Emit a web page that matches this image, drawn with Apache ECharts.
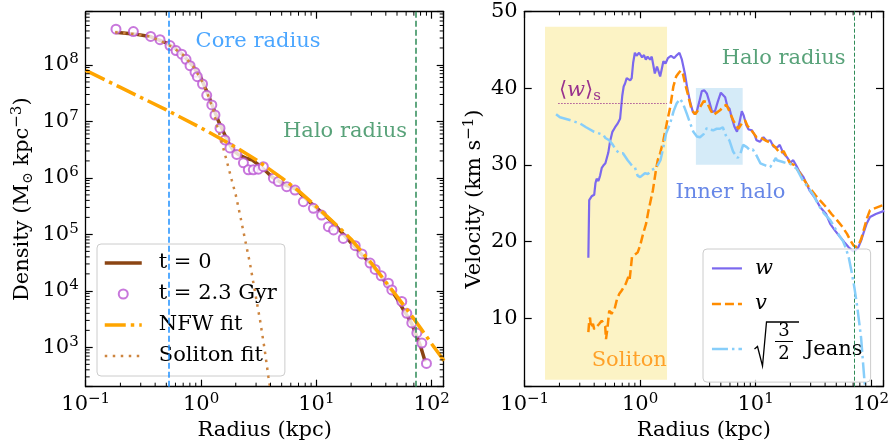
<!DOCTYPE html>
<html><head><meta charset="utf-8">
<script src="https://cdn.jsdelivr.net/npm/echarts@6/dist/echarts.min.js"></script>
<style>html,body{margin:0;padding:0;background:#fff}#c{width:892px;height:441px}</style>
</head><body><div id="c"></div>
<script>
// ---------------- DATA ----------------
// Left panel: density profiles  [radius kpc, density Msun/kpc^3]
const densityT0 = [[0.18,3.8e8],[0.26,3.55e8],[0.36,3.2e8],[0.5,2.45e8],[0.6,1.95e8],[0.7,1.5e8],[0.85,9.5e7],[1.0,5.8e7],[1.15,3.0e7],[1.28,1.7e7],[1.42,1.0e7],[1.56,6.6e6],[1.75,4.0e6],[1.9,3.1e6],[2.1,2.6e6],[2.5,2.2e6],[2.75,2.1e6],[3.1,1.75e6],[3.6,1.35e6],[4.1,1.05e6],[4.7,8.8e5],[5.35,7.5e5],[6.0,6.9e5],[6.6,6.4e5],[7.5,5.0e5],[8.5,3.9e5],[9.75,3.1e5],[11.5,2.3e5],[13.6,1.7e5],[16.5,1.1e5],[19.5,7.5e4],[23,5.2e4],[26.4,3.8e4],[29.2,3.1e4],[35,2.0e4],[43.6,1.1e4],[50,7.3e3],[56.9,4.6e3],[62,3.5e3],[67.2,2.6e3],[74.3,1.56e3],[80,1.05e3],[87.7,5.6e2]];
const densityT23 = [[0.183,4.3e8],[0.259,3.9e8],[0.366,3.2e8],[0.441,2.8e8],[0.538,2.2e8],[0.607,1.8e8],[0.68,1.55e8],[0.741,1.26e8],[0.803,9.7e7],[0.887,7.4e7],[0.929,6.2e7],[1.03,4.6e7],[1.12,2.9e7],[1.24,1.96e7],[1.32,1.3e7],[1.46,7.6e6],[1.61,4.7e6],[1.78,3.4e6],[2.04,2.6e6],[2.33,1.85e6],[2.57,1.39e6],[2.84,1.39e6],[3.14,1.43e6],[3.47,1.58e6],[4.24,9.9e5],[4.68,8.6e5],[5.53,7.0e5],[6.53,6.1e5],[7.71,3.8e5],[9.42,2.9e5],[11.1,2.2e5],[12.7,1.37e5],[14.1,1.2e5],[17.1,8.5e4],[21.7,6.3e4],[24.8,4.5e4],[29.2,3.1e4],[32.3,2.4e4],[36.5,1.85e4],[42.1,1.37e4],[45.1,1.04e4],[55,6.5e3],[60.8,4.0e3],[67.2,2.7e3],[74.3,1.8e3],[82,1.19e3],[90,5.2e2]];
const nfwFit = [[0.1,8.0e7],[0.2,4.0e7],[0.5,1.6e7],[1,7.7e6],[2,3.5e6],[3,2.1e6],[5,1.0e6],[7,5.9e5],[10,3.1e5],[15,1.45e5],[20,8.2e4],[30,3.1e4],[45,1.05e4],[60,4.9e3],[80,2.2e3],[100,1.15e3],[115,7.8e2],[130,5.5e2]];
const solitonFit = [[0.18,3.8e8],[0.26,3.55e8],[0.36,3.2e8],[0.5,2.4e8],[0.6,1.9e8],[0.7,1.5e8],[0.85,9.5e7],[1.0,5.6e7],[1.15,2.9e7],[1.28,1.55e7],[1.37,8.7e6],[1.5,4.5e6],[1.67,2.0e6],[1.85,9.0e5],[2.0,5.0e5],[2.2,2.0e5],[2.41,8.0e4],[2.66,3.0e4],[2.9,1.1e4],[3.25,3.0e3],[3.55,9.5e2],[3.84,3.0e2],[4.05,1.5e2]];
const coreRadius = 0.53;
const haloRadius = 72;

// Right panel: velocities [radius kpc, km/s]
const velW = [[0.356,17.9],[0.362,25.4],[0.38,25.9],[0.40,26.1],[0.41,27.6],[0.42,28.2],[0.435,27.9],[0.45,28.6],[0.465,29.6],[0.48,29.9],[0.50,30.2],[0.53,31.6],[0.548,33.0],[0.575,34.3],[0.607,34.9],[0.64,35.4],[0.67,36.0],[0.685,37.5],[0.70,39.0],[0.72,40.2],[0.74,40.6],[0.765,41.3],[0.79,41.1],[0.82,41.0],[0.845,41.3],[0.87,43.3],[0.9,44.6],[0.93,44.2],[0.955,44.1],[0.98,44.6],[1.0,44.8],[1.04,44.0],[1.08,44.3],[1.12,43.7],[1.16,44.1],[1.22,43.7],[1.26,44.1],[1.30,43.0],[1.34,41.9],[1.40,42.8],[1.45,42.1],[1.49,41.5],[1.53,42.3],[1.59,43.5],[1.66,43.2],[1.74,43.9],[1.85,44.2],[1.97,43.9],[2.08,44.3],[2.19,44.6],[2.3,43.7],[2.44,41.9],[2.56,40.0],[2.7,38.3],[2.85,37.0],[2.96,36.6],[3.09,36.9],[3.25,38.2],[3.42,39.6],[3.6,39.7],[3.78,39.3],[3.98,38.2],[4.2,36.9],[4.45,37.0],[4.7,38.2],[5.0,39.4],[5.2,39.5],[5.45,38.8],[5.7,37.6],[5.95,37.3],[6.2,36.2],[6.55,35.0],[6.9,34.3],[7.2,35.3],[7.6,37.0],[7.9,36.4],[8.3,35.2],[8.7,34.6],[9.3,34.5],[9.8,33.9],[10.2,33.2],[10.9,33.0],[11.7,33.6],[12.5,33.1],[13.4,33.2],[14.3,32.4],[15.2,32.2],[16.2,32.6],[17.4,31.5],[18.7,31.0],[20,30.3],[21.2,30.6],[22.7,29.8],[24,29.1],[26,28.4],[29.5,26.6],[33,25.6],[36.2,24.5],[40.8,23.6],[44.3,22.3],[49,21.4],[54,20.6],[59,19.9],[63.7,19.3],[68,18.9],[71,18.7],[74,18.9],[77.8,19.3],[82,20.1],[86,21.1],[92,22.4],[98,23.2],[110,23.6],[130,24.0]];
const velV = [[0.356,8.2],[0.362,9.6],[0.368,10.1],[0.375,8.8],[0.39,9.3],[0.40,8.6],[0.42,8.9],[0.443,9.3],[0.465,9.7],[0.48,9.9],[0.498,9.0],[0.506,7.3],[0.52,8.6],[0.54,11.0],[0.565,10.6],[0.6,11.2],[0.62,11.4],[0.63,12.5],[0.66,13.2],[0.69,13.6],[0.75,14.5],[0.79,15.4],[0.81,15.0],[0.83,16.5],[0.85,18.0],[0.9,18.3],[0.953,18.6],[1.0,19.5],[1.06,21.0],[1.125,22.3],[1.18,24.0],[1.29,26.7],[1.37,29.3],[1.42,30.6],[1.49,31.5],[1.59,33.2],[1.70,35.4],[1.82,37.5],[1.94,40.2],[2.05,41.5],[2.14,41.9],[2.25,42.3],[2.35,41.8],[2.45,40.6],[2.62,38.9],[2.8,37.1],[3.0,36.6],[3.09,36.7],[3.3,37.5],[3.55,38.3],[3.78,38.2],[4.05,37.2],[4.3,36.5],[4.6,36.8],[4.92,37.1],[5.25,37.6],[5.6,37.8],[6.0,36.8],[6.4,35.8],[7.1,34.7],[7.6,35.4],[8.1,35.8],[8.5,35.1],[8.95,34.7],[9.5,34.2],[10.2,33.6],[10.9,33.6],[12.1,33.2],[13.4,32.9],[14.8,32.3],[16.3,31.5],[17.5,31.8],[18.6,31.0],[19.9,30.2],[21.5,30.0],[24.3,28.9],[28,27.4],[33.2,26.0],[36.5,25.3],[40.8,24.5],[45.5,23.6],[50.7,22.8],[56,22.0],[62,21.0],[66,20.2],[70.4,19.5],[74,19.3],[77.8,19.5],[82,20.3],[86,21.4],[92,23.0],[98,24.1],[110,24.4],[130,24.8]];
const velJeans = [[0.187,36.6],[0.202,36.2],[0.25,35.8],[0.30,35.4],[0.34,34.9],[0.40,34.3],[0.48,33.9],[0.50,33.5],[0.54,33.2],[0.55,33.0],[0.58,32.6],[0.62,31.9],[0.66,31.5],[0.71,31.5],[0.78,30.6],[0.85,29.9],[0.9,29.7],[0.95,28.6],[1.0,28.4],[1.03,28.4],[1.1,28.9],[1.17,28.8],[1.25,29.3],[1.39,29.7],[1.5,30.6],[1.59,32.3],[1.68,34.1],[1.82,35.4],[1.95,37.0],[2.07,38.0],[2.22,38.6],[2.35,38.0],[2.53,36.7],[2.7,35.5],[2.89,34.3],[3.1,33.7],[3.3,33.6],[3.55,34.0],[3.78,34.8],[4.0,34.6],[4.3,34.5],[4.6,34.7],[4.92,34.7],[5.2,34.9],[5.6,33.6],[5.93,33.2],[6.4,31.7],[7.0,30.9],[7.4,31.5],[7.8,32.6],[8.4,32.3],[8.95,31.9],[9.46,32.0],[10.2,31.2],[11,30.2],[12.3,29.9],[13.4,29.7],[15,30.9],[15.3,30.6],[17,30.4],[18.6,30.2],[19.6,30.2],[22.7,29.5],[25.6,28.0],[29.6,26.7],[31.3,26.2],[34.7,24.9],[39,23.7],[44.3,22.8],[49,21.7],[54,20.6],[57,20.1],[60,19.3],[64,18.0],[68,16.0],[71.8,14.0],[76,11.5],[82,7.5],[85,4.5],[87.7,1.9],[89,1.0]];
const solitonBox = [[0.15, 2], [1.71, 48]];
const innerHaloBox = [[3.04, 30], [7.73, 40]];
const wMeanSoliton = 38;
const wMeanRange = [0.196, 1.71];

// Tick labels / axis ranges
const leftX = {min: 0.1, max: 127};
const leftY = {min: 201, max: 8.77e8};
const rightX = {min: 0.1, max: 127};
const rightY = {min: 1.1, max: 50};
const minorMult = [2,3,4,5,6,7,8,9];

// Annotation anchors (data coordinates)
const leftNotes = [
  {text: 'Core radius', pos: [3.12, 2.58e8], color: '#1E90FF'},
  {text: 'Halo radius', pos: [17.7, 6.6e6], color: '#2E8B57'}
];
const rightNotes = [
  {text: 'Halo radius', pos: [17.5, 43.9], color: '#2E8B57'},
  {text: '{a|⟨}{i|w}{a|⟩}{s|s}', pos: [0.301, 39.7], color: '#800080'},
  {text: 'Inner halo', pos: [6.05, 26.45], color: '#4169E1'},
  {text: 'Soliton', pos: [0.805, 4.48], color: '#FF8C00'}
];

// ---------------- CHART ----------------
const F = "'DejaVu Serif', serif";
const FS = 21;
const chart = echarts.init(document.getElementById('c'), null, {renderer: 'canvas'});

function powLabel(v) {
  const e = Math.log10(v), r = Math.round(e);
  if (Math.abs(e - r) > 1e-6) return '';
  return '{b|10}{s|' + (r < 0 ? '−' + (-r) : r) + '}';
}
const labRich = {
  b: {fontFamily: F, fontSize: FS, color: '#000', lineHeight: 26},
  s: {fontFamily: F, fontSize: 15, color: '#000', verticalAlign: 'top', lineHeight: 15}
};
const tickStyle = {inside: true, length: 7, lineStyle: {color: '#000', width: 1.2}};
const lineStyleAxis = {show: true, onZero: false, lineStyle: {color: '#000', width: 1.3}};

function logAxis(grid, pos, rng, showLabel, name, nameGap, extra) {
  return Object.assign({
    type: 'log', logBase: 10, gridIndex: grid, position: pos, min: rng.min, max: rng.max,
    splitNumber: 10, axisLine: lineStyleAxis, axisTick: tickStyle, splitLine: {show: false},
    axisLabel: {show: showLabel, interval: 0, formatter: powLabel, rich: labRich, margin: 5},
    name: name || '', nameLocation: 'middle', nameGap: nameGap || 0
  }, extra || {});
}
const nameRich = {
  t: {fontFamily: F, fontSize: FS, color: '#000', lineHeight: 26},
  sub: {fontFamily: F, fontSize: 14, color: '#000', verticalAlign: 'bottom', lineHeight: 12},
  sup: {fontFamily: F, fontSize: 15, color: '#000', verticalAlign: 'top', lineHeight: 15}
};

function minorTicks(xi, yi, dir, rngX, rngY) {
  const vals = [];
  const rng = dir === 'x' ? rngX : rngY;
  for (let e = Math.floor(Math.log10(rng.min)); e <= Math.ceil(Math.log10(rng.max)); e++) {
    for (const m of minorMult) {
      const v = m * Math.pow(10, e);
      if (v > rng.min && v < rng.max) vals.push(dir === 'x' ? [v, rngY.min] : [rngX.min, v]);
    }
  }
  return {
    type: 'custom', xAxisIndex: xi, yAxisIndex: yi, silent: true, z: 10, clip: false,
    data: vals,
    renderItem: function (params, api) {
      const cs = params.coordSys;
      const p = api.coord([api.value(0), api.value(1)]);
      const L = 4, st = {stroke: '#000', lineWidth: 1};
      if (dir === 'x') {
        return {type: 'group', children: [
          {type: 'line', shape: {x1: p[0], y1: cs.y + cs.height, x2: p[0], y2: cs.y + cs.height - L}, style: st},
          {type: 'line', shape: {x1: p[0], y1: cs.y, x2: p[0], y2: cs.y + L}, style: st}
        ]};
      }
      return {type: 'group', children: [
        {type: 'line', shape: {x1: cs.x, y1: p[1], x2: cs.x + L, y2: p[1]}, style: st},
        {type: 'line', shape: {x1: cs.x + cs.width, y1: p[1], x2: cs.x + cs.width - L, y2: p[1]}, style: st}
      ]};
    }
  };
}

function notesSeries(xi, yi, notes) {
  return {
    type: 'scatter', xAxisIndex: xi, yAxisIndex: yi, symbolSize: 1, silent: true, z: 20,
    itemStyle: {color: 'rgba(0,0,0,0)'},
    data: notes.map(n => ({
      value: n.pos,
      label: {
        show: true, position: 'inside', formatter: n.text, color: n.color, fontFamily: F, fontSize: FS,
        rich: {
          a: {fontFamily: F, fontSize: FS, color: n.color, lineHeight: 26},
          i: {fontFamily: F, fontSize: FS, fontStyle: 'italic', color: n.color, lineHeight: 26},
          s: {fontFamily: F, fontSize: 15, color: n.color, verticalAlign: 'bottom', lineHeight: 14}
        }
      }
    }))
  };
}

const hideSym = {opacity: 0};
const option = {
  animation: false,
  backgroundColor: '#fff',
  grid: [
    {left: 85.7, top: 11.7, width: 358, height: 375, containLabel: false, outerBoundsMode: 'none'},
    {left: 524.7, top: 11.3, width: 358.3, height: 375.4, containLabel: false, outerBoundsMode: 'none'}
  ],
  xAxis: [
    logAxis(0, 'bottom', leftX, true, 'Radius (kpc)', 30, {nameTextStyle: {fontFamily: F, fontSize: FS, color: '#000'}}),
    logAxis(0, 'top', leftX, false),
    logAxis(1, 'bottom', rightX, true, 'Radius (kpc)', 30, {nameTextStyle: {fontFamily: F, fontSize: FS, color: '#000'}}),
    logAxis(1, 'top', rightX, false)
  ],
  yAxis: [
    logAxis(0, 'left', leftY, true, '{t|Density (M}{sub|⊙}{t| kpc}{sup|−3}{t|)}', 50,
      {nameTextStyle: {fontFamily: F, fontSize: FS, color: '#000', rich: nameRich}, axisLabel: {show: true, interval: 0, formatter: powLabel, rich: labRich, margin: 7}}),
    logAxis(0, 'right', leftY, false),
    {type: 'value', gridIndex: 1, position: 'left', min: rightY.min, max: rightY.max, splitNumber: 5,
      axisLine: lineStyleAxis, axisTick: tickStyle, splitLine: {show: false},
      axisLabel: {fontFamily: F, fontSize: FS, color: '#000', margin: 7,
        formatter: v => (Math.abs(v % 10) < 1e-9 ? String(v) : '')},
      name: '{t|Velocity (km s}{sup|−1}{t|)}', nameLocation: 'middle', nameGap: 37,
      nameTextStyle: {fontFamily: F, fontSize: FS, color: '#000', rich: nameRich}},
    {type: 'value', gridIndex: 1, position: 'right', min: rightY.min, max: rightY.max, splitNumber: 5,
      axisLine: lineStyleAxis, axisTick: tickStyle, splitLine: {show: false}, axisLabel: {show: false}}
  ],
  legend: [
    {
      data: [
        {name: 't = 0', itemStyle: hideSym, lineStyle: {width: 3.5}},
        {name: 't = 2.3 Gyr'},
        {name: 'NFW fit', itemStyle: hideSym, lineStyle: {width: 3.5}},
        {name: 'Soliton fit', itemStyle: hideSym, lineStyle: {width: 2.5}}
      ],
      left: 97, top: 244, orient: 'vertical', itemWidth: 37, itemHeight: 9, itemGap: 9,
      padding: [8, 8, 9, 6], selectedMode: false,
      textStyle: {fontFamily: F, fontSize: FS, color: '#000', lineHeight: 22, padding: [0, 0, 0, 12]},
      backgroundColor: 'rgba(255,255,255,0.8)', borderColor: '#cccccc', borderWidth: 1, borderRadius: 4
    },
    {
      data: [
        {name: 'w', itemStyle: hideSym, lineStyle: {width: 2.2}},
        {name: 'v', itemStyle: hideSym, lineStyle: {width: 2.5}},
        {name: 'Jeans', itemStyle: hideSym, lineStyle: {width: 2.5}}
      ],
      left: 703, top: 249, orient: 'vertical', itemWidth: 30, itemHeight: 9, itemGap: 14.6,
      padding: [8.9, 8, 13, 7.7], selectedMode: false,
      formatter: name => name === 'Jeans' ? '{sp| }{n|Jeans}' : '{i|' + name + '}',
      textStyle: {fontFamily: F, fontSize: FS, color: '#000', padding: [0, 0, 0, 8],
        rich: {
          i: {fontFamily: F, fontSize: FS, fontStyle: 'italic', color: '#000', lineHeight: 17},
          sp: {width: 50, height: 40, lineHeight: 40},
          n: {fontFamily: F, fontSize: FS, color: '#000', lineHeight: 22}
        }},
      backgroundColor: 'rgba(255,255,255,0.8)', borderColor: '#cccccc', borderWidth: 1, borderRadius: 4
    }
  ],
  graphic: [
    {type: 'polyline', z: 100, shape: {points: [[754.5, 349], [757.5, 346.5], [762.5, 366], [766.5, 322], [799, 322]]},
      style: {stroke: '#000', lineWidth: 1.3, fill: null}},
    {type: 'line', z: 100, shape: {x1: 775, y1: 341.5, x2: 793, y2: 341.5}, style: {stroke: '#000', lineWidth: 1}},
    {type: 'text', z: 100, style: {text: '3', x: 784, y: 331, fontFamily: F, fontSize: 18, fill: '#000', align: 'center', verticalAlign: 'middle'}},
    {type: 'text', z: 100, style: {text: '2', x: 784, y: 354, fontFamily: F, fontSize: 18, fill: '#000', align: 'center', verticalAlign: 'middle'}}
  ],
  series: [
    // left panel
    {name: 'refLinesL', type: 'line', xAxisIndex: 0, yAxisIndex: 0, data: [], z: 1,
      markLine: {silent: true, symbol: ['none', 'none'], label: {show: false}, animation: false,
        data: [
          {xAxis: coreRadius, lineStyle: {color: '#1E90FF', type: [6, 3], width: 1.5}},
          {xAxis: haloRadius, lineStyle: {color: '#2E8B57', type: [6, 3], width: 1.5}}
        ]}},
    {name: 't = 0', type: 'line', xAxisIndex: 0, yAxisIndex: 0, data: densityT0, symbol: 'none', showSymbol: false, z: 2,
      lineStyle: {color: '#8B4513', width: 3.5}, itemStyle: {color: '#8B4513'}},
    {name: 't = 2.3 Gyr', type: 'scatter', xAxisIndex: 0, yAxisIndex: 0, data: densityT23, symbol: 'emptyCircle', symbolSize: 9, z: 3,
      itemStyle: {color: '#BA55D3', borderColor: '#BA55D3', borderWidth: 1}},
    {name: 'NFW fit', type: 'line', xAxisIndex: 0, yAxisIndex: 0, data: nfwFit, symbol: 'none', showSymbol: false, z: 4,
      lineStyle: {color: '#FFA500', width: 3.5, type: [21, 5, 3.5, 5]}, itemStyle: {color: '#FFA500'}},
    {name: 'Soliton fit', type: 'line', xAxisIndex: 0, yAxisIndex: 0, data: solitonFit, symbol: 'none', showSymbol: false, z: 5,
      lineStyle: {color: '#CD853F', width: 2.5, type: [2.5, 5.5]}, itemStyle: {color: '#CD853F'}},
    minorTicks(0, 0, 'x', leftX, leftY),
    minorTicks(0, 0, 'y', leftX, leftY),
    notesSeries(0, 0, leftNotes),
    // right panel
    {name: 'areasR', type: 'line', xAxisIndex: 2, yAxisIndex: 2, data: [], z: 1,
      markArea: {silent: true, animation: false, data: [
        [{xAxis: solitonBox[0][0], yAxis: solitonBox[0][1], itemStyle: {color: '#fcf3c5'}}, {xAxis: solitonBox[1][0], yAxis: solitonBox[1][1]}],
        [{xAxis: innerHaloBox[0][0], yAxis: innerHaloBox[0][1], itemStyle: {color: '#d5ebf8'}}, {xAxis: innerHaloBox[1][0], yAxis: innerHaloBox[1][1]}]
      ]}},
    {name: 'refLinesR', type: 'line', xAxisIndex: 2, yAxisIndex: 2, data: [], z: 2,
      markLine: {silent: true, symbol: ['none', 'none'], label: {show: false}, animation: false,
        data: [
          {xAxis: haloRadius, lineStyle: {color: '#2E8B57', type: [4, 2], width: 1}},
          [{coord: [wMeanRange[0], wMeanSoliton], lineStyle: {color: '#800080', type: [1, 2], width: 1}}, {coord: [wMeanRange[1], wMeanSoliton]}]
        ]}},
    {name: 'w', type: 'line', xAxisIndex: 2, yAxisIndex: 2, data: velW, symbol: 'none', showSymbol: false, z: 3,
      lineStyle: {color: '#7B68EE', width: 2.2}, itemStyle: {color: '#7B68EE'}},
    {name: 'v', type: 'line', xAxisIndex: 2, yAxisIndex: 2, data: velV, symbol: 'none', showSymbol: false, z: 4,
      lineStyle: {color: '#FF8C00', width: 2.5, type: [9, 4]}, itemStyle: {color: '#FF8C00'}},
    {name: 'Jeans', type: 'line', xAxisIndex: 2, yAxisIndex: 2, data: velJeans, symbol: 'none', showSymbol: false, z: 5,
      lineStyle: {color: '#87CEFA', width: 2.5, type: [16, 4, 2.5, 4]}, itemStyle: {color: '#87CEFA'}},
    minorTicks(2, 2, 'x', rightX, rightY),
    notesSeries(2, 2, rightNotes)
  ]
};
chart.setOption(option);
</script></body></html>
